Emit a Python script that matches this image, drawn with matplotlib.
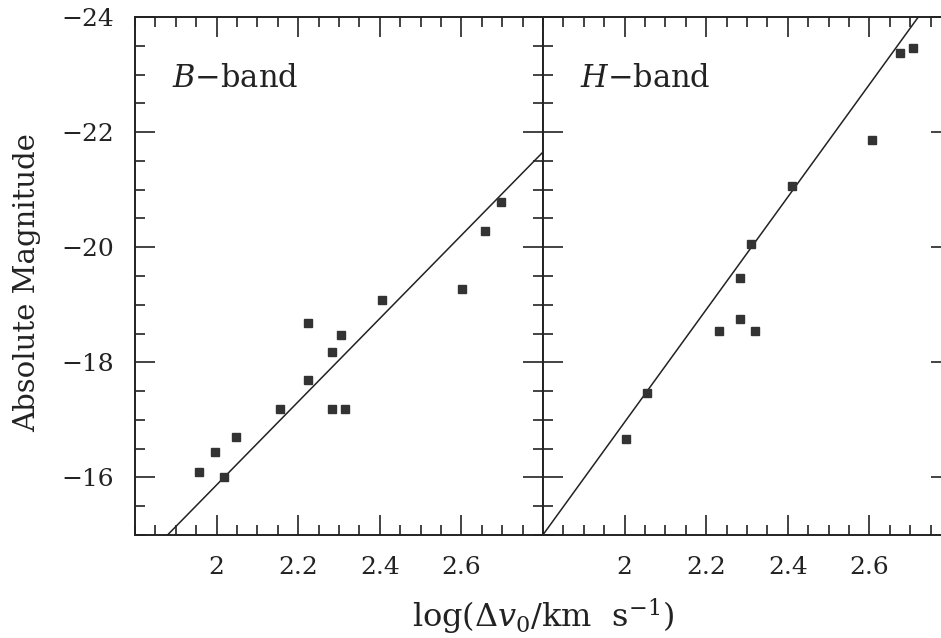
import matplotlib
matplotlib.use('Agg')
import matplotlib.pyplot as plt
from matplotlib.ticker import MultipleLocator
import numpy as np

# ── Data ──
b_logv = [1.957, 1.997, 2.017, 2.047, 2.156, 2.224, 2.224, 2.284, 2.304,
          2.284, 2.314, 2.405, 2.601, 2.658, 2.697]
b_mag = [-16.09, -16.44, -16.01, -16.70, -17.19, -17.69, -18.69, -18.18, -18.48,
         -17.19, -17.19, -19.08, -19.28, -20.28, -20.79]

h_logv = [2.003, 2.055, 2.232, 2.282, 2.320, 2.282, 2.311, 2.410, 2.606, 2.676, 2.706]
h_mag = [-16.66, -17.46, -18.55, -18.76, -18.55, -19.46, -20.05, -21.07, -21.87,
         -23.37, -23.47]

# fitted relations  M = a + b * log(dv)
b_fit = (-1.41, -7.23)
h_fit = (2.60, -9.78)

xticks = [2.0, 2.2, 2.4, 2.6]
yticks = [-24, -22, -20, -18, -16]
band_names = ['B', 'H']

INK = '#222222'
DOT = '#333333'

plt.rcParams.update({
    'font.family': ['DejaVu Serif'],
    'mathtext.fontset': 'dejavuserif',
    'axes.edgecolor': INK, 'axes.linewidth': 1.4,
    'xtick.color': INK, 'ytick.color': INK,
    'xtick.labelcolor': INK, 'ytick.labelcolor': INK,
})

fig = plt.figure(figsize=(9.41, 6.38), dpi=100)
W, H = 941, 638
left, bottom = 135 / W, 1 - 535 / H
pw, ph = 408 / W, 518 / H
ax1 = fig.add_axes([left, bottom, pw, ph])
ax2 = fig.add_axes([left + pw, bottom, pw, ph], sharey=ax1)

panels = [(ax1, b_logv, b_mag, b_fit), (ax2, h_logv, h_mag, h_fit)]
xline = np.array([1.8, 2.8])
for i, (ax, xs, ys, fit) in enumerate(panels):
    ax.plot(xline, fit[0] + fit[1] * xline, color=INK, lw=1.1)
    ax.plot(xs, ys, 's', color=DOT, ms=5.6, mec=DOT)
    ax.set_xlim(1.8, 2.8)
    ax.set_ylim(-15, -24)
    ax.set_xticks(xticks)
    ax.set_xticklabels([f'{t:g}' for t in xticks])
    ax.xaxis.set_minor_locator(MultipleLocator(0.05))
    ax.set_yticks(yticks)
    ax.yaxis.set_minor_locator(MultipleLocator(0.5))
    ax.tick_params(which='both', direction='in', top=True, right=True,
                   width=1.2, labelsize=18)
    ax.tick_params(which='major', length=14.5, pad=15)
    ax.tick_params(which='minor', length=7)
    ax.text(1.89, -22.78, f'${band_names[i]}$\u2212band', fontsize=22,
            color=INK, ha='left', va='baseline')

ax1.set_yticklabels([f'\u2212{abs(t)}' for t in yticks])
ax2.tick_params(labelleft=False)
ax1.patch.set_alpha(0)

fig.text(27 / W, 1 - 283 / H, 'Absolute Magnitude', rotation=90,
         ha='center', va='center', fontsize=21, color=INK)
fig.text(543 / W, 1 - 628 / H, r'log($\Delta v_0$/km  s$^{-1}$)',
         ha='center', va='baseline', fontsize=23, color=INK)

fig.savefig('out.png', dpi=100, facecolor='white')
plt.close(fig)
